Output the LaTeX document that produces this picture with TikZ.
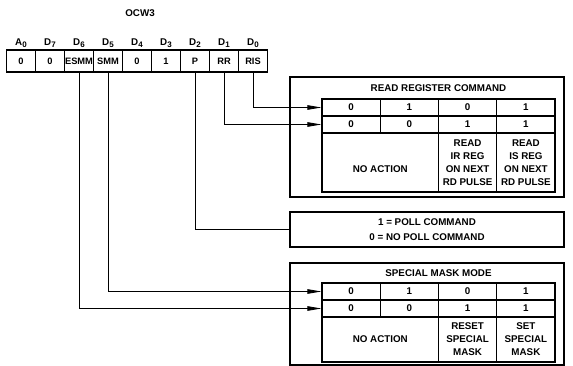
\documentclass[tikz,border=0pt]{standalone}
\usepackage{fontspec}
\setmainfont{Liberation Sans}
\usetikzlibrary{arrows.meta}
\newcommand{\lsub}[1]{\raisebox{-0.45ex}{\fontsize{8}{8}\selectfont #1}}
\tikzset{
  txt/.style={font=\bfseries\fontsize{9.8}{13}\selectfont, inner sep=0pt},
  regbox/.style={txt, font=\bfseries\fontsize{9.3}{11}\selectfont, draw, line width=1.2pt,
                 minimum width=29pt, minimum height=22pt},
  cell/.style={txt, draw, line width=1.1pt, minimum width=58.25pt, minimum height=17pt},
  frame/.style={draw, line width=1.4pt},
  conn/.style={line width=0.8pt},
  arr/.style={conn, -{Triangle[length=14pt,width=4.5pt]}}
}
\begin{document}
\begin{tikzpicture}[x=1pt, y=-1pt]
\useasboundingbox (0,0) rectangle (573,366);

% Register OCW3
\node[txt] (ocw) at (140,13) {OCW3};
\foreach \a/\b [count=\i] in {A/0,D/7,D/6,D/5,D/4,D/3,D/2,D/1,D/0}
  \node[txt] (l\i) at (29*\i-8,43) {\a\lsub{\b}};
\foreach \t [count=\i] in {0,0,ESMM,SMM,0,1,P,RR,RIS}
  \node[regbox] (r\i) at (29*\i-8,61) {\t};

% Read register command
\node[frame, minimum width=274pt, minimum height=120pt] (rdframe) at (427,137) {};
\node[txt] (rdtitle) at (438.5,88) {READ REGISTER COMMAND};
\node[cell] (a11) at (351.1,107.5) {0};
\node[cell] (a12) at (409.4,107.5) {1};
\node[cell] (a13) at (467.6,107.5) {0};
\node[cell] (a14) at (525.9,107.5) {1};
\node[cell] (a21) at (351.1,124.5) {0};
\node[cell] (a22) at (409.4,124.5) {0};
\node[cell] (a23) at (467.6,124.5) {1};
\node[cell] (a24) at (525.9,124.5) {1};
\node[cell, minimum width=116.5pt, minimum height=59pt] (a3na) at (380.25,162.5) {};
\node[txt] (a3txt) at ([yshift=-6.5pt]a3na.center) {NO ACTION};
\node[cell, minimum height=59pt, align=center] (a33) at (467.6,162.5) {READ\\IR REG\\ON NEXT\\RD PULSE};
\node[cell, minimum height=59pt, align=center] (a34) at (525.9,162.5) {READ\\IS REG\\ON NEXT\\RD PULSE};

% Poll
\node[frame, txt, font=\bfseries\fontsize{9.8}{15}\selectfont, align=center,
      minimum width=274pt, minimum height=35pt] (poll) at (427,229.5)
      {1 = POLL COMMAND\\0 = NO POLL COMMAND};

% Special mask mode
\node[frame, minimum width=274pt, minimum height=102pt] (smframe) at (427,314) {};
\node[txt] (smtitle) at (438.5,273) {SPECIAL MASK MODE};
\node[cell] (b11) at (351.1,291.5) {0};
\node[cell] (b12) at (409.4,291.5) {1};
\node[cell] (b13) at (467.6,291.5) {0};
\node[cell] (b14) at (525.9,291.5) {1};
\node[cell] (b21) at (351.1,308.5) {0};
\node[cell] (b22) at (409.4,308.5) {0};
\node[cell] (b23) at (467.6,308.5) {1};
\node[cell] (b24) at (525.9,308.5) {1};
\node[cell, minimum width=116.5pt, minimum height=45pt] (b3na) at (380.25,339.5) {NO ACTION};
\node[cell, minimum height=45pt, align=center] (b33) at (467.6,339.5) {RESET\\SPECIAL\\MASK};
\node[cell, minimum height=45pt, align=center] (b34) at (525.9,339.5) {SET\\SPECIAL\\MASK};

% Leitungen
\draw[arr] (r9.south) |- (a11.west);
\draw[arr] (r8.south) |- (a21.west);
\draw[conn] (r7.south) |- (poll.west);
\draw[arr] (r4.south) |- (b11.west);
\draw[arr] (r3.south) |- (b21.west);
\end{tikzpicture}
\end{document}
